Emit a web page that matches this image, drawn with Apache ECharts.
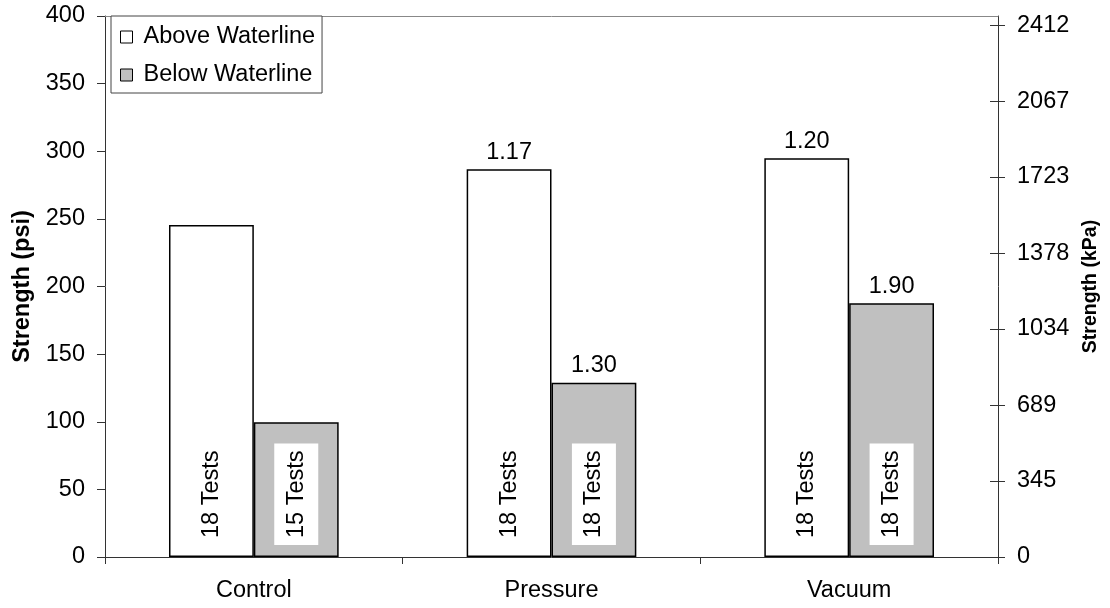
<!DOCTYPE html>
<html>
<head>
<meta charset="utf-8">
<script src="https://cdn.jsdelivr.net/npm/echarts@6/dist/echarts.min.js"></script>
<style>
html,body{margin:0;padding:0;background:#fff;}
#chart{width:1110px;height:608px;}
</style>
</head>
<body>
<div id="chart"></div>
<script>
var categories = ['Control', 'Pressure', 'Vacuum'];
var aboveValues = [245.5, 286.6, 294.8];
var belowValues = [99.6, 128.9, 187.6];
var aboveRatios = ['', '1.17', '1.20'];
var belowRatios = ['', '1.30', '1.90'];
var aboveTests = ['18 Tests', '18 Tests', '18 Tests'];
var belowTests = ['15 Tests', '18 Tests', '18 Tests'];
var kpaTicks = [0, 345, 689, 1034, 1378, 1723, 2067, 2412];
var kpaMax = 2453;

var FONT = 'Liberation Sans, Arial, sans-serif';
var FS = 23.5;
var AX = '#333';

var chart = echarts.init(document.getElementById('chart'), null, {renderer: 'canvas'});

function testsLabel(arr) {
  return {
    show: true,
    position: 'insideBottom',
    distance: 12,
    rotate: 90,
    align: 'left',
    verticalAlign: 'middle',
    fontFamily: FONT,
    fontSize: FS,
    color: '#000',
    backgroundColor: '#fff',
    padding: [10, 7, 10, 7],
    formatter: function (p) { return arr[p.dataIndex]; }
  };
}
function ratioLabel(arr) {
  return {
    show: true,
    position: 'top',
    distance: 5,
    fontFamily: FONT,
    fontSize: FS,
    color: '#000',
    formatter: function (p) { return arr[p.dataIndex]; }
  };
}

var option = {
  backgroundColor: '#fff',
  animation: false,
  textStyle: {fontFamily: FONT},
  grid: {left: 105, right: 112, top: 16, bottom: 51},
  legend: {
    data: ['Above Waterline', 'Below Waterline'],
    orient: 'vertical',
    left: 111,
    top: 16,
    padding: [9, 7, 6, 9],
    itemWidth: 12,
    itemHeight: 12,
    itemGap: 14,
    icon: 'rect',
    borderColor: '#444',
    borderWidth: 1,
    backgroundColor: '#fff',
    selectedMode: false,
    itemStyle: {borderColor: '#000', borderWidth: 1},
    textStyle: {fontFamily: FONT, fontSize: FS, color: '#000', padding: [0, 0, 0, 6]}
  },
  xAxis: [
    {
      type: 'category',
      data: categories,
      position: 'bottom',
      axisLine: {show: true, lineStyle: {color: AX, width: 1}},
      axisTick: {show: true, alignWithLabel: false, length: 7, lineStyle: {color: AX}},
      axisLabel: {fontFamily: FONT, fontSize: FS, color: '#000', margin: 22},
      splitLine: {show: false}
    },
    {
      type: 'category',
      data: categories,
      position: 'top',
      axisLine: {show: true, onZero: false, lineStyle: {color: '#888', width: 1}},
      axisTick: {show: false},
      axisLabel: {show: false},
      splitLine: {show: false}
    }
  ],
  yAxis: [
    {
      type: 'value',
      position: 'left',
      min: 0, max: 400, interval: 50,
      name: 'Strength (psi)',
      nameLocation: 'middle',
      nameRotate: 90,
      nameGap: 69,
      nameTextStyle: {fontFamily: FONT, fontSize: FS, fontWeight: 'bold', color: '#000'},
      axisLine: {show: true, lineStyle: {color: AX, width: 1}},
      axisTick: {show: true, length: 8, lineStyle: {color: AX}},
      axisLabel: {fontFamily: FONT, fontSize: FS, color: '#000', margin: 20},
      splitLine: {show: false}
    },
    {
      type: 'value',
      position: 'right',
      min: 0, max: kpaMax,
      name: 'Strength (kPa)',
      nameLocation: 'middle',
      nameRotate: 90,
      nameGap: 82,
      nameTextStyle: {fontFamily: FONT, fontSize: 19.5, fontWeight: 'bold', color: '#000'},
      axisLine: {show: true, lineStyle: {color: AX, width: 1}},
      axisTick: {show: true, length: 7, customValues: kpaTicks, lineStyle: {color: AX}},
      axisLabel: {fontFamily: FONT, fontSize: FS, color: '#000', margin: 19, customValues: kpaTicks,
        formatter: function (v) { return String(v); }},
      splitLine: {show: false}
    },
    {
      type: 'value',
      position: 'right',
      min: 0, max: kpaMax,
      axisLine: {show: false},
      axisTick: {show: true, inside: true, length: 8, customValues: kpaTicks, lineStyle: {color: AX}},
      axisLabel: {show: false},
      splitLine: {show: false}
    }
  ],
  series: [
    {
      name: 'Above Waterline',
      type: 'bar',
      xAxisIndex: 0, yAxisIndex: 0,
      data: aboveValues,
      barGap: '0%',
      barCategoryGap: '43%',
      itemStyle: {color: '#ffffff', borderColor: '#000', borderWidth: 1.5},
      label: testsLabel(aboveTests)
    },
    {
      name: 'Below Waterline',
      type: 'bar',
      xAxisIndex: 0, yAxisIndex: 0,
      data: belowValues,
      barGap: '0%',
      barCategoryGap: '43%',
      itemStyle: {color: '#c0c0c0', borderColor: '#000', borderWidth: 1.5},
      label: testsLabel(belowTests)
    },
    {
      name: 'aboveRatio',
      type: 'bar',
      xAxisIndex: 1, yAxisIndex: 0,
      data: aboveValues,
      barGap: '0%',
      barCategoryGap: '43%',
      silent: true,
      itemStyle: {color: 'rgba(0,0,0,0)', borderWidth: 0},
      label: ratioLabel(aboveRatios)
    },
    {
      name: 'belowRatio',
      type: 'bar',
      xAxisIndex: 1, yAxisIndex: 0,
      data: belowValues,
      barGap: '0%',
      barCategoryGap: '43%',
      silent: true,
      itemStyle: {color: 'rgba(0,0,0,0)', borderWidth: 0},
      label: ratioLabel(belowRatios)
    }
  ]
};
chart.setOption(option);
</script>
</body>
</html>
